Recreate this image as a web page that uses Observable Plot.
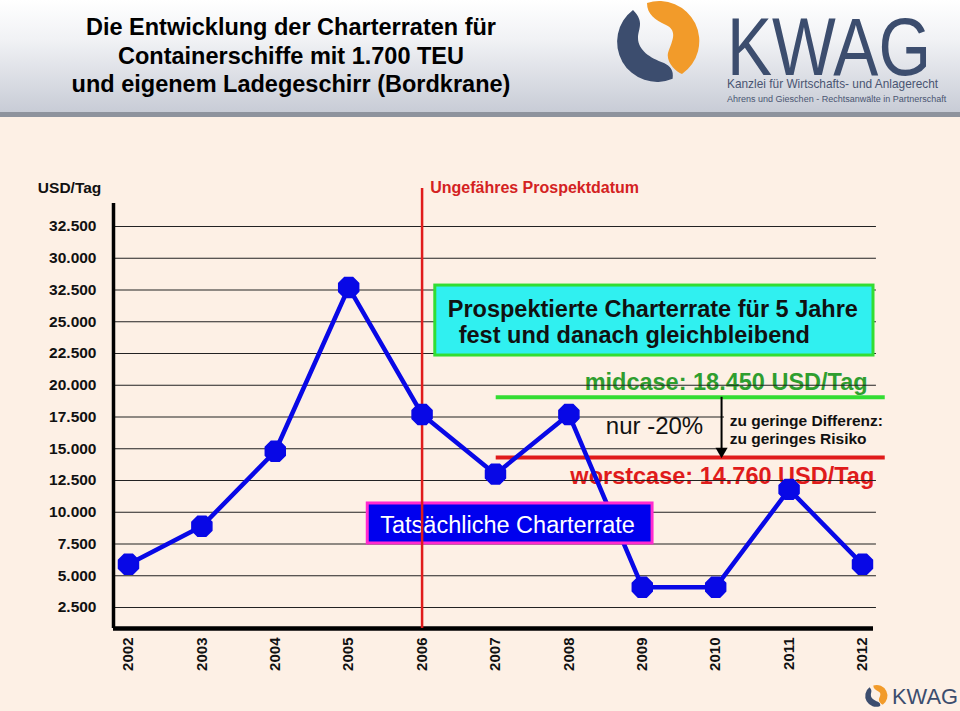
<!DOCTYPE html>
<html><head><meta charset="utf-8">
<script src="https://cdn.jsdelivr.net/npm/d3@7"></script>
<script src="https://cdn.jsdelivr.net/npm/@observablehq/plot@0.6"></script>
<style>
html,body{margin:0;padding:0;}
body{width:960px;height:711px;overflow:hidden;background:#fdf0e5;font-family:"Liberation Sans",Arial,sans-serif;}
#page{position:relative;width:960px;height:711px;background:#fdf0e5;}
#header{position:absolute;left:0;top:0;width:960px;height:112px;background:linear-gradient(#ffffff 0%,#f1f2f5 35%,#c8ccd6 100%);border-bottom:5px solid #8e939d;}
#title{position:absolute;left:0;top:13px;width:582px;text-align:center;font-weight:bold;font-size:23.5px;line-height:28.5px;color:#000;}
#logo{position:absolute;left:0;top:0;}
#chart{position:absolute;left:0;top:118px;}
#mini{position:absolute;left:0;top:0;pointer-events:none;}
</style></head><body>
<div id="page">
<div id="header">
<svg id="logo" width="960" height="112">
<path d="M647,3 A40 40 0 0 1 682,74 C 676,72 666,62 668,53 C 671,43 679,31 666,25 C 655,20 647,14 647,3 Z" fill="#f29b2a"/>
<path d="M633,10 A40 40 0 0 0 672.6,78.8 C 674,70 670,66 664,63 C 650,58 638,50 638,38 C 638,29 645,22 633,10 Z" fill="#3c4d6e"/>
<text transform="translate(727,75) scale(0.824,1)" x="0" y="0" font-family="Liberation Sans, Arial, sans-serif" font-size="82" fill="#3c4d6e">KWAG</text>
<text transform="translate(727,88) scale(0.95,1)" x="0" y="0" font-family="Liberation Sans, Arial, sans-serif" font-size="12.5" fill="#4a5572">Kanzlei für Wirtschafts- und Anlagerecht</text>
<text transform="translate(727,102) scale(0.95,1)" x="0" y="0" font-family="Liberation Sans, Arial, sans-serif" font-size="9.5" fill="#4a5572">Ahrens und Gieschen - Rechtsanwälte in Partnerschaft</text>
</svg>
<div id="title">Die Entwicklung der Charterraten für<br>Containerschiffe mit 1.700 TEU<br>und eigenem Ladegeschirr (Bordkrane)</div>
</div>
<div id="chart"></div>
<svg id="mini" width="960" height="711">
<g transform="translate(876,696) scale(0.27) translate(-657,-42)">
<path d="M647,3 A40 40 0 0 1 682,74 C 676,72 666,62 668,53 C 671,43 679,31 666,25 C 655,20 647,14 647,3 Z" fill="#f29b2a"/>
<path d="M633,10 A40 40 0 0 0 672.6,78.8 C 674,70 670,66 664,63 C 650,58 638,50 638,38 C 638,29 645,22 633,10 Z" fill="#3c4d6e"/>
</g>
<text x="892" y="704" font-family="Liberation Sans, Arial, sans-serif" font-size="22" fill="#3c4d6e" textLength="66" lengthAdjust="spacingAndGlyphs">KWAG</text>
</svg>
</div>
<script>
// ---- data ----
const years = [2002, 2003, 2004, 2005, 2006, 2007, 2008, 2009, 2010, 2011, 2012];
const yearLabels = ["2002","2003","2004","2005","2006","2007","2008","2009","2010","2011","2012"];
const rates = [5900, 8900, 14800, 27700, 17700, 13000, 17700, 4100, 4100, 11800, 5900];
const yTickValues = [32500, 30000, 27500, 25000, 22500, 20000, 17500, 15000, 12500, 10000, 7500, 5000, 2500];
const yTickLabels = ["32.500","30.000","32.500","25.000","22.500","20.000","17.500","15.000","12.500","10.000","7.500","5.000","2.500"];
const prospectYear = 2006;
const midcase = 19050;
const worstcase = 14310;
const midcaseLabel = "midcase: 18.450 USD/Tag";
const worstcaseLabel = "worstcase: 14.760 USD/Tag";
const boxLines = ["Prospektierte Charterrate für 5 Jahre", " fest und danach gleichbleibend"];

const data = years.map((year, i) => ({year, rate: rates[i]}));

const blue = "#0808e6", red = "#e01b1b", green = "#33dd33", darkGreen = "#2f9e2f";
const octagon = {draw(ctx, size) {
  const r = Math.sqrt(size / Math.PI);
  for (let i = 0; i < 8; i++) {
    const a = Math.PI / 8 + i * Math.PI / 4;
    const x = r * Math.cos(a), y = r * Math.sin(a);
    if (i) ctx.lineTo(x, y); else ctx.moveTo(x, y);
  }
  ctx.closePath();
}};

const x0 = 2001.796, x1 = 2012.15, y0 = 846, yTop = 34311;

const chart = Plot.plot({
  width: 960, height: 593,
  marginLeft: 113, marginRight: 87, marginTop: 85, marginBottom: 83,
  x: {domain: [x0, x1], axis: null},
  y: {domain: [y0, yTop], axis: null},
  style: {background: "transparent", fontFamily: "Liberation Sans, Arial, sans-serif", overflow: "visible", color: "#111"},
  marks: [
    Plot.text([midcaseLabel], {x: 2012.07, y: 19590, text: d => d, textAnchor: "end", lineAnchor: "bottom", fill: darkGreen, fontSize: 23.5, fontWeight: "bold"}),
    Plot.text([worstcaseLabel], {x: 2008.02, y: 12260, text: d => d, textAnchor: "start", lineAnchor: "bottom", fill: red, fontSize: 23.5, fontWeight: "bold"}),
    Plot.ruleY(yTickValues, {x1: x0, x2: 2012.19, stroke: "#222", strokeWidth: 1.2}),
    Plot.rect([0], {x1: 2010.12, x2: 2012.35, y1: 14700, y2: 18000, fill: "#fdf0e5"}),
    Plot.axisY(yTickValues, {label: null, tickFormat: d => yTickLabels[yTickValues.indexOf(d)], tickSize: 0, tickPadding: 17, fontSize: 15.5, fontWeight: "bold"}),
    Plot.axisX(years, {label: null, tickFormat: d => yearLabels[years.indexOf(d)], tickRotate: -90, tickSize: 0, tickPadding: 9, fontSize: 15, fontWeight: "bold"}),
    Plot.ruleX([x0], {y1: y0, y2: yTop, stroke: "#000", strokeWidth: 3.5}),
    Plot.ruleY([y0], {x1: x0, x2: x1, stroke: "#000", strokeWidth: 4.5}),
    Plot.ruleY([midcase], {x1: 2007.01, x2: 2012.31, stroke: green, strokeWidth: 4}),
    Plot.ruleY([worstcase], {x1: 2007.01, x2: 2012.31, stroke: red, strokeWidth: 4}),
    Plot.ruleX([2010.08], {y1: midcase, y2: 14750, stroke: "#000", strokeWidth: 2}),
    Plot.dot([0], {x: 2010.08, y: 14800, symbol: "triangle", rotate: 180, r: 4.5, fill: "#000"}),
    Plot.text(["nur -20%"], {x: 2009.83, y: 16200, text: d => d, textAnchor: "end", lineAnchor: "bottom", fill: "#111", fontSize: 24, fontWeight: "normal"}),
    Plot.text(["zu geringe Differenz:", "zu geringes Risiko"], {x: 2010.19, y: [16830, 15410], text: d => d, textAnchor: "start", lineAnchor: "bottom", fill: "#111", fontSize: 15.5, fontWeight: "bold"}),
    Plot.line(data, {x: "year", y: "rate", stroke: blue, strokeWidth: 4.5}),
    Plot.rect([0], {x1: 2005.26, x2: 2009.14, y1: 7540, y2: 10690, fill: "#0000ee", stroke: "#ff2ad0", strokeWidth: 3}),
    Plot.text(["Tatsächliche Charterrate"], {x: 2005.43, y: 8400, text: d => d, textAnchor: "start", lineAnchor: "bottom", fill: "#fff", fontSize: 23.5, fontWeight: "normal"}),
    Plot.ruleX([prospectYear], {y1: y0, y2: 35490, stroke: red, strokeWidth: 2.5}),
    Plot.text(["Ungefähres Prospektdatum"], {x: 2006.11, y: 35100, text: d => d, textAnchor: "start", lineAnchor: "bottom", fill: "#d42222", fontSize: 16, fontWeight: "bold"}),
    Plot.text(["USD/Tag"], {x: 2001.63, y: 35100, text: d => d, textAnchor: "end", lineAnchor: "bottom", fill: "#111", fontSize: 15.5, fontWeight: "bold"}),
    Plot.dot(data, {x: "year", y: "rate", r: 10.8, symbol: octagon, fill: blue, stroke: blue}),
    Plot.rect([0], {x1: 2006.18, x2: 2012.15, y1: 22340, y2: 27850, fill: "#30f0f0", stroke: green, strokeWidth: 3}),
    Plot.text(boxLines, {x: [2006.35, 2006.41], y: [25400, 23290], text: d => d, textAnchor: "start", lineAnchor: "bottom", fill: "#111", fontSize: 23.5, fontWeight: "bold"})
  ]
});
document.getElementById("chart").appendChild(chart);
</script>
</body></html>
